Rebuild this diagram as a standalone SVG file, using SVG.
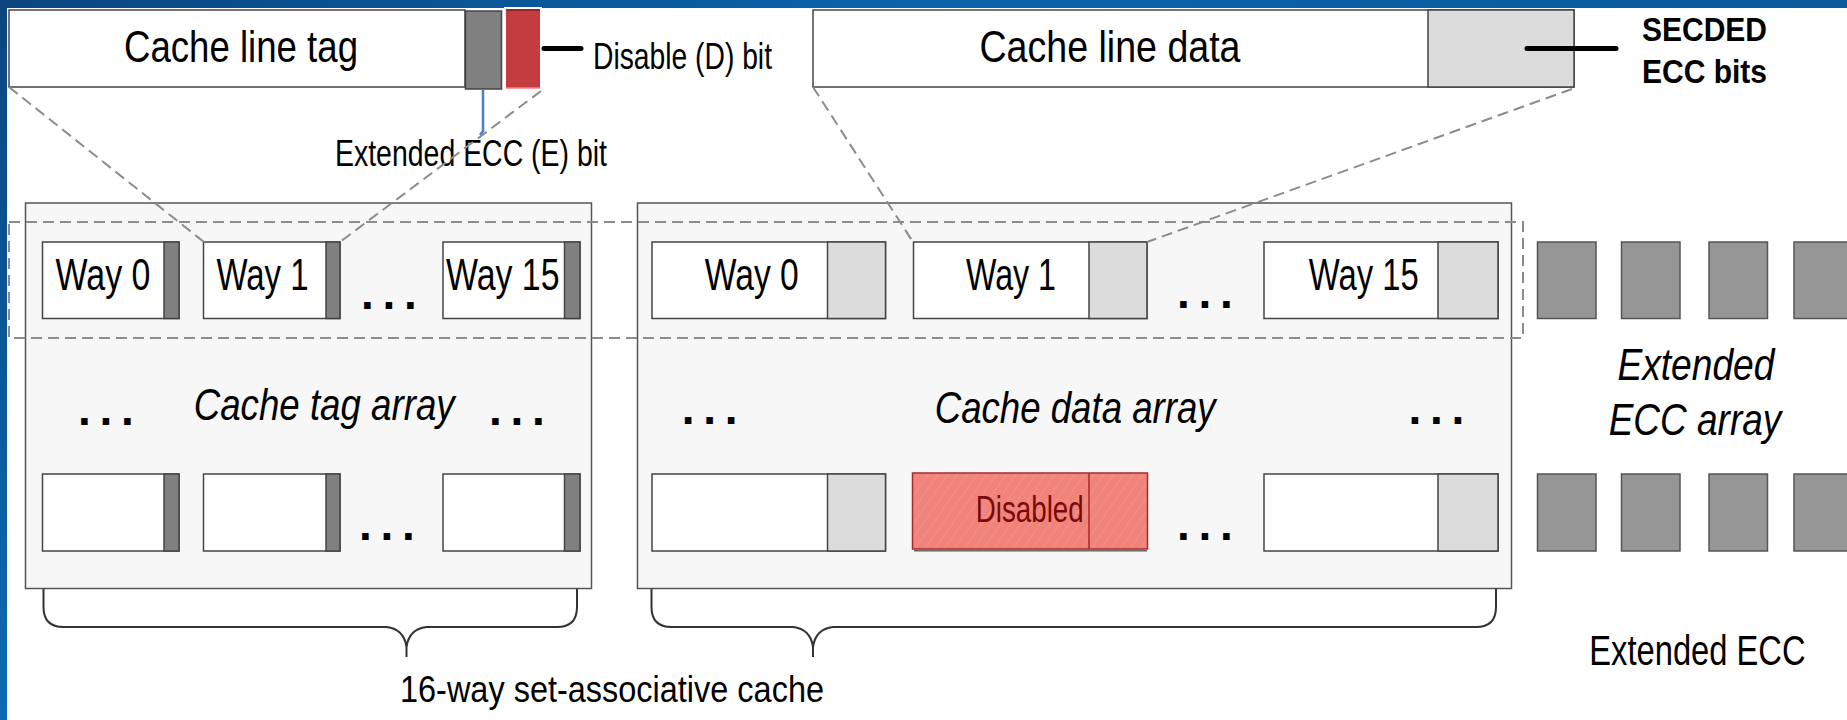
<svg xmlns="http://www.w3.org/2000/svg" width="1847" height="720" viewBox="0 0 1847 720">
<defs>
<linearGradient id="bandTop" x1="0" y1="0" x2="1" y2="0">
<stop offset="0" stop-color="#0b4680"/>
<stop offset="0.5" stop-color="#0a64ab"/>
<stop offset="1" stop-color="#0a5a9c"/>
</linearGradient>
<linearGradient id="bandLeft" x1="0" y1="0" x2="0" y2="1">
<stop offset="0" stop-color="#0b4680"/>
<stop offset="1" stop-color="#0b6bb3"/>
</linearGradient>
<pattern id="hatch" width="8" height="8" patternUnits="userSpaceOnUse" patternTransform="rotate(35)">
<rect width="8" height="8" fill="#f0847a"/>
<line x1="0" y1="0" x2="0" y2="8" stroke="#f49a91" stroke-width="1"/>
</pattern>
</defs>
<style>
text{font-family:"Liberation Sans",Arial,sans-serif;fill:#000}
.big{font-size:44px}
.mid{font-size:37px}
.it{font-style:italic;font-size:44px}
.bold{font-weight:bold;font-size:33px}
.dots{font-weight:bold;font-size:46px;letter-spacing:8.7px}
.box{fill:#fff;stroke:#444;stroke-width:1.5}
.tagbit{fill:#808080;stroke:#444;stroke-width:1.5}
.eccbit{fill:#dcdcdc;stroke:#444;stroke-width:1.5}
.cont{fill:#f7f7f7;stroke:#555;stroke-width:1.5}
.sq{fill:#969696;stroke:#555;stroke-width:1.5}
.dash{fill:none;stroke:#8c8c8c;stroke-width:2;stroke-dasharray:11 6}
.brace{fill:none;stroke:#333;stroke-width:2}
.lead{stroke:#000;stroke-width:5;stroke-linecap:round}
</style>
<rect x="0" y="0" width="1847" height="720" fill="#fff"/>
<rect x="0" y="0" width="1847" height="8" fill="url(#bandTop)"/>
<rect x="0" y="0" width="7" height="720" fill="url(#bandLeft)"/>

<g id="tag-line">
<rect class="box" x="9" y="10" width="456" height="77"/>
<rect class="tagbit" x="465.5" y="11" width="36" height="78"/>
<rect x="505" y="8" width="36" height="81" fill="#c43c3f" stroke="#fff" stroke-width="2"/>
<line x1="506" y1="10" x2="540" y2="10" stroke="#8e1c20" stroke-width="1.5"/>
<line x1="506" y1="88" x2="540" y2="88" stroke="#ff7d80" stroke-width="1.5"/>
<text class="big" x="124" y="62" textLength="234" lengthAdjust="spacingAndGlyphs">Cache line tag</text>
</g>

<g id="data-line">
<rect class="box" x="813" y="10" width="761" height="77"/>
<rect class="eccbit" x="1428" y="10" width="146" height="77"/>
<text class="big" x="979.5" y="62" textLength="261" lengthAdjust="spacingAndGlyphs">Cache line data</text>
</g>

<g id="d-bit-label">
<line class="lead" x1="544" y1="48.5" x2="581" y2="48.5"/>
<text class="mid" x="593" y="69" textLength="179" lengthAdjust="spacingAndGlyphs">Disable (D) bit</text>
</g>

<g id="e-bit-label">
<text class="mid" x="335" y="166" textLength="272" lengthAdjust="spacingAndGlyphs">Extended ECC (E) bit</text>
<path d="M483,89 V131 L480,135" fill="none" stroke="#4a7dc9" stroke-width="2.5"/>
</g>

<g id="secded-label">
<line class="lead" x1="1527" y1="48.5" x2="1616" y2="48.5"/>
<text class="bold" x="1642" y="41" textLength="125" lengthAdjust="spacingAndGlyphs">SECDED</text>
<text class="bold" x="1642" y="83" textLength="125" lengthAdjust="spacingAndGlyphs">ECC bits</text>
</g>

<g id="tag-array">
<rect class="cont" x="25.5" y="203" width="566" height="385.5"/>
<rect class="box" x="42.5" y="242" width="136.5" height="76.5"/>
<rect class="tagbit" x="164" y="242" width="15" height="76.5"/>
<rect class="box" x="203.5" y="242" width="136.5" height="76.5"/>
<rect class="tagbit" x="326" y="242" width="14" height="76.5"/>
<rect class="box" x="443" y="242" width="137" height="76.5"/>
<rect class="tagbit" x="564.5" y="242" width="15.5" height="76.5"/>
<rect class="box" x="42.5" y="474" width="136.5" height="77"/>
<rect class="tagbit" x="164" y="474" width="15" height="77"/>
<rect class="box" x="203.5" y="474" width="136.5" height="77"/>
<rect class="tagbit" x="326" y="474" width="14" height="77"/>
<rect class="box" x="443" y="474" width="137" height="77"/>
<rect class="tagbit" x="564.5" y="474" width="15.5" height="77"/>
<text class="big" x="55.5" y="290" textLength="95" lengthAdjust="spacingAndGlyphs">Way 0</text>
<text class="big" x="216.5" y="290" textLength="92" lengthAdjust="spacingAndGlyphs">Way 1</text>
<text class="big" x="446" y="290" textLength="113.5" lengthAdjust="spacingAndGlyphs">Way 15</text>
<text class="dots" x="361" y="308.5">...</text>
<text class="dots" x="78" y="425">...</text>
<text class="dots" x="489" y="425">...</text>
<text class="dots" x="359" y="540">...</text>
<text transform="translate(193.7,420) scale(1,1.2)" style="font-style:italic;font-size:36.7px">Cache tag array</text>
</g>

<g id="data-array">
<rect class="cont" x="637.5" y="203" width="874" height="385.5"/>
<rect class="box" x="652" y="242" width="233.5" height="76.5"/>
<rect class="eccbit" x="827.5" y="242" width="58" height="76.5"/>
<rect class="box" x="913.5" y="242" width="233.5" height="76.5"/>
<rect class="eccbit" x="1089" y="242" width="58" height="76.5"/>
<rect class="box" x="1264" y="242" width="234" height="76.5"/>
<rect class="eccbit" x="1438" y="242" width="60" height="76.5"/>
<rect class="box" x="652" y="474" width="233.5" height="77"/>
<rect class="eccbit" x="827.5" y="474" width="58" height="77"/>
<line x1="914" y1="550.8" x2="1147" y2="550.8" stroke="#666" stroke-width="1.5"/>
<rect x="912.5" y="473" width="235" height="76" fill="url(#hatch)" stroke="#a52a2a" stroke-width="1.5"/>
<line x1="1089" y1="473" x2="1089" y2="549" stroke="#a52a2a" stroke-width="1.5"/>
<text class="mid" x="975.7" y="521.7" textLength="108" lengthAdjust="spacingAndGlyphs" style="fill:#7a0a0a">Disabled</text>
<rect class="box" x="1264" y="474" width="234" height="77"/>
<rect class="eccbit" x="1438" y="474" width="60" height="77"/>
<text class="big" x="704.8" y="290" textLength="94" lengthAdjust="spacingAndGlyphs">Way 0</text>
<text class="big" x="966" y="290" textLength="90" lengthAdjust="spacingAndGlyphs">Way 1</text>
<text class="big" x="1308.7" y="290" textLength="110" lengthAdjust="spacingAndGlyphs">Way 15</text>
<text class="dots" x="1177" y="307.5">...</text>
<text class="dots" x="681.7" y="424">...</text>
<text class="dots" x="1408.6" y="423.5">...</text>
<text class="dots" x="1177" y="540">...</text>
<text class="it" x="934.7" y="423.3" textLength="281" lengthAdjust="spacingAndGlyphs">Cache data array</text>
</g>

<g id="ecc-array">
<rect class="sq" x="1537.5" y="242" width="58.5" height="76.5"/>
<rect class="sq" x="1621.5" y="242" width="58.5" height="76.5"/>
<rect class="sq" x="1709" y="242" width="58.5" height="76.5"/>
<rect class="sq" x="1794" y="242" width="58.5" height="76.5"/>
<rect class="sq" x="1537.5" y="474" width="58.5" height="77"/>
<rect class="sq" x="1621.5" y="474" width="58.5" height="77"/>
<rect class="sq" x="1709" y="474" width="58.5" height="77"/>
<rect class="sq" x="1794" y="474" width="58.5" height="77"/>
<text class="it" x="1617.4" y="380" textLength="157" lengthAdjust="spacingAndGlyphs">Extended</text>
<text class="it" x="1608.7" y="435" textLength="172.6" lengthAdjust="spacingAndGlyphs">ECC array</text>
</g>

<g id="cache-brace">
<path class="brace" d="M43.5,589 V607 Q43.5,627 63.5,627 H386.5 Q404,629 406.5,647 V657 M406.5,647 Q409,629 426.5,627 H557 Q577,627 577,607 V589"/>
<path class="brace" d="M651.5,589 V607 Q651.5,627 671.5,627 H793 Q810.5,629 813,647 V657 M813,647 Q815.5,629 833,627 H1476 Q1496,627 1496,607 V589"/>
<text x="400" y="702" style="font-size:36px" textLength="424" lengthAdjust="spacingAndGlyphs">16-way set-associative cache</text>
</g>

<g id="ecc-caption">
<text transform="translate(1589.3,665) scale(1,1.3)" style="font-size:32.7px">Extended ECC</text>
</g>

<g id="connectors">
<rect class="dash" x="9" y="222" width="1514" height="116"/>
<line class="dash" x1="9" y1="87" x2="204" y2="242"/>
<line class="dash" x1="541" y1="91" x2="340" y2="242"/>
<line class="dash" x1="813" y1="87" x2="913" y2="242"/>
<line class="dash" x1="1572" y1="89" x2="1147" y2="242"/>
</g>
</svg>
